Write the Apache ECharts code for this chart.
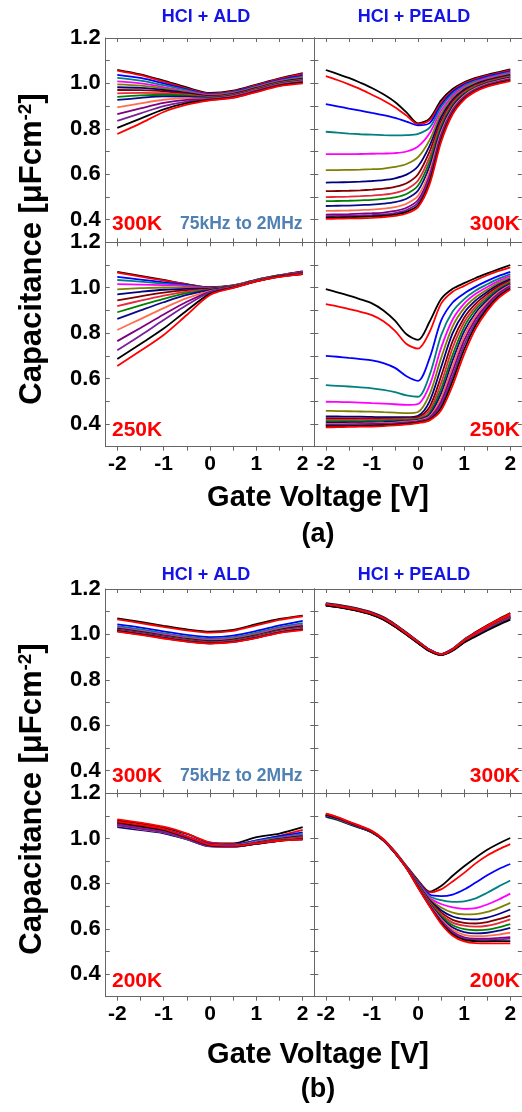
<!DOCTYPE html>
<html>
<head>
<meta charset="utf-8">
<script src="https://cdn.jsdelivr.net/npm/echarts@6/dist/echarts.min.js"></script>
<style>
html,body{margin:0;padding:0;background:#fff;}
#chart{width:522px;height:1112px;}
</style>
</head>
<body>
<div id="chart"></div>
<script>
// ---------------- DATA ----------------
const xAld = [-2,-1.5,-1,-0.5,0,0.5,1,1.5,2];
const xPeald = [-2,-1.75,-1.5,-1.25,-1,-0.75,-0.5,-0.25,0,0.25,0.5,0.75,1,1.25,1.5,1.75,2];
const xTickLabels = [-2,-1,0,1,2];
const xTickMarks = [-2,-1.5,-1,-0.5,0,0.5,1,1.5,2];
const yTickLabels = [0.4,0.6,0.8,1.0,1.2];
const yTickMarks = [0.4,0.5,0.6,0.7,0.8,0.9,1.0,1.1,1.2];
const curveColors = ['#000000','#ff0000','#0000ff','#008080','#ff00ff','#808000','#000080','#800000',
                     '#e8283c','#008000','#0a0a8c','#ff6f4f','#800080','#7a1f9a','#000000','#ff0000'];

// (a) HCl + ALD, 300K
const aldA300 = [
 [1.060,1.040,1.012,0.982,0.958,0.968,0.995,1.022,1.045],
 [1.056,1.036,1.008,0.978,0.955,0.965,0.992,1.020,1.042],
 [1.038,1.024,1.000,0.974,0.952,0.962,0.988,1.015,1.035],
 [1.024,1.012,0.992,0.970,0.950,0.960,0.986,1.012,1.030],
 [1.009,1.000,0.984,0.965,0.948,0.958,0.984,1.010,1.027],
 [0.996,0.990,0.978,0.962,0.946,0.956,0.982,1.008,1.024],
 [0.983,0.980,0.971,0.958,0.944,0.954,0.980,1.006,1.021],
 [0.971,0.970,0.965,0.954,0.942,0.952,0.978,1.004,1.018],
 [0.956,0.958,0.957,0.950,0.940,0.950,0.976,1.002,1.016],
 [0.941,0.947,0.950,0.946,0.938,0.948,0.974,1.000,1.014],
 [0.927,0.936,0.943,0.942,0.936,0.946,0.972,0.998,1.012],
 [0.894,0.912,0.928,0.935,0.933,0.944,0.970,0.996,1.010],
 [0.865,0.890,0.914,0.927,0.931,0.942,0.968,0.994,1.008],
 [0.835,0.868,0.900,0.920,0.929,0.940,0.966,0.992,1.006],
 [0.804,0.845,0.886,0.913,0.927,0.938,0.964,0.990,1.003],
 [0.777,0.824,0.874,0.906,0.925,0.936,0.962,0.988,1.000]
];
// (a) HCl + PEALD, 300K
const pealdA300 = [
 [1.059,1.042,1.024,1.003,0.980,0.952,0.918,0.872,0.824,0.845,0.925,0.975,1.005,1.024,1.038,1.050,1.062],
 [1.032,1.015,0.996,0.975,0.950,0.925,0.895,0.858,0.820,0.838,0.915,0.968,1.000,1.020,1.034,1.046,1.058],
 [0.909,0.899,0.889,0.880,0.870,0.860,0.848,0.832,0.815,0.825,0.905,0.962,0.995,1.015,1.030,1.042,1.053],
 [0.787,0.783,0.779,0.776,0.774,0.772,0.771,0.772,0.778,0.805,0.895,0.955,0.990,1.011,1.026,1.038,1.049],
 [0.688,0.688,0.688,0.689,0.690,0.691,0.693,0.700,0.722,0.780,0.880,0.945,0.984,1.006,1.022,1.034,1.045],
 [0.618,0.618,0.619,0.620,0.622,0.625,0.632,0.645,0.675,0.750,0.865,0.936,0.978,1.002,1.018,1.030,1.041],
 [0.563,0.564,0.565,0.567,0.570,0.574,0.582,0.598,0.635,0.725,0.850,0.928,0.972,0.997,1.014,1.027,1.038],
 [0.525,0.526,0.527,0.529,0.532,0.536,0.544,0.560,0.600,0.700,0.835,0.920,0.966,0.993,1.010,1.023,1.034],
 [0.499,0.500,0.501,0.503,0.506,0.510,0.518,0.534,0.572,0.675,0.822,0.912,0.961,0.989,1.007,1.020,1.031],
 [0.481,0.482,0.483,0.485,0.487,0.491,0.498,0.513,0.550,0.655,0.810,0.905,0.956,0.985,1.004,1.017,1.028],
 [0.460,0.461,0.462,0.464,0.466,0.470,0.477,0.492,0.528,0.635,0.798,0.898,0.951,0.981,1.001,1.014,1.025],
 [0.438,0.439,0.440,0.442,0.444,0.448,0.455,0.470,0.505,0.612,0.785,0.890,0.946,0.978,0.998,1.011,1.022],
 [0.422,0.423,0.424,0.426,0.428,0.431,0.438,0.452,0.486,0.594,0.772,0.882,0.941,0.974,0.995,1.008,1.019],
 [0.415,0.416,0.417,0.418,0.420,0.423,0.429,0.442,0.474,0.580,0.762,0.876,0.937,0.971,0.992,1.005,1.016],
 [0.409,0.410,0.411,0.412,0.414,0.417,0.422,0.434,0.463,0.567,0.752,0.870,0.933,0.968,0.989,1.002,1.013],
 [0.403,0.404,0.405,0.406,0.408,0.411,0.416,0.427,0.455,0.555,0.742,0.864,0.929,0.965,0.986,0.999,1.010]
];
// (a) HCl + ALD, 250K
const aldA250 = [
 [1.070,1.052,1.034,1.016,1.002,1.010,1.035,1.055,1.072],
 [1.066,1.049,1.032,1.015,1.001,1.010,1.035,1.055,1.072],
 [1.048,1.036,1.024,1.012,1.000,1.009,1.034,1.054,1.070],
 [1.034,1.027,1.018,1.009,0.999,1.009,1.034,1.054,1.068],
 [1.016,1.014,1.011,1.006,0.998,1.008,1.033,1.053,1.067],
 [0.993,0.998,1.001,1.000,0.997,1.008,1.033,1.053,1.066],
 [0.971,0.982,0.991,0.995,0.996,1.007,1.032,1.052,1.065],
 [0.944,0.962,0.978,0.989,0.995,1.007,1.032,1.052,1.064],
 [0.919,0.943,0.965,0.983,0.993,1.006,1.031,1.051,1.063],
 [0.892,0.922,0.951,0.976,0.991,1.005,1.031,1.051,1.062],
 [0.863,0.900,0.936,0.968,0.989,1.004,1.030,1.050,1.062],
 [0.814,0.862,0.910,0.954,0.985,1.003,1.030,1.050,1.061],
 [0.765,0.823,0.882,0.938,0.982,1.002,1.029,1.050,1.061],
 [0.725,0.790,0.858,0.924,0.979,1.001,1.029,1.049,1.060],
 [0.686,0.752,0.820,0.900,0.973,1.000,1.028,1.049,1.060],
 [0.655,0.722,0.792,0.880,0.968,0.999,1.028,1.048,1.060]
];
// (a) HCl + PEALD, 250K
const pealdA250 = [
 [0.994,0.980,0.965,0.949,0.931,0.900,0.855,0.795,0.770,0.850,0.950,0.995,1.020,1.043,1.063,1.082,1.100],
 [0.928,0.918,0.906,0.894,0.879,0.852,0.810,0.752,0.732,0.805,0.930,0.982,1.008,1.033,1.055,1.074,1.090],
 [0.700,0.696,0.691,0.686,0.680,0.668,0.647,0.610,0.590,0.690,0.855,0.935,0.975,1.005,1.030,1.052,1.070],
 [0.571,0.568,0.565,0.561,0.557,0.550,0.540,0.526,0.520,0.615,0.790,0.895,0.950,0.988,1.015,1.040,1.060],
 [0.498,0.497,0.496,0.494,0.492,0.490,0.487,0.484,0.488,0.570,0.735,0.860,0.930,0.973,1.003,1.030,1.052],
 [0.458,0.457,0.456,0.455,0.454,0.452,0.450,0.448,0.453,0.530,0.690,0.830,0.910,0.958,0.992,1.022,1.045],
 [0.433,0.433,0.432,0.432,0.431,0.430,0.430,0.430,0.436,0.500,0.650,0.800,0.890,0.944,0.982,1.014,1.038],
 [0.425,0.425,0.425,0.425,0.425,0.425,0.425,0.426,0.430,0.475,0.610,0.765,0.868,0.930,0.972,1.007,1.032],
 [0.418,0.418,0.418,0.419,0.419,0.420,0.421,0.422,0.425,0.460,0.580,0.735,0.848,0.917,0.963,1.000,1.027],
 [0.412,0.412,0.413,0.413,0.414,0.415,0.416,0.418,0.421,0.448,0.555,0.705,0.828,0.904,0.954,0.994,1.022],
 [0.406,0.406,0.407,0.407,0.408,0.409,0.411,0.414,0.418,0.440,0.535,0.680,0.808,0.890,0.945,0.988,1.017],
 [0.400,0.400,0.401,0.402,0.403,0.404,0.406,0.410,0.415,0.433,0.515,0.655,0.788,0.876,0.936,0.981,1.012],
 [0.397,0.397,0.398,0.399,0.400,0.401,0.403,0.407,0.412,0.428,0.498,0.632,0.768,0.862,0.927,0.975,1.007],
 [0.394,0.394,0.395,0.396,0.397,0.398,0.400,0.404,0.410,0.424,0.485,0.610,0.748,0.848,0.918,0.968,1.002],
 [0.390,0.390,0.391,0.392,0.393,0.395,0.397,0.401,0.407,0.420,0.472,0.590,0.728,0.834,0.908,0.962,0.997],
 [0.385,0.386,0.387,0.388,0.389,0.391,0.394,0.398,0.404,0.416,0.460,0.570,0.708,0.820,0.898,0.955,0.992]
];
// (b) HCl + ALD, 300K
const aldB300 = [
 [1.071,1.055,1.038,1.022,1.012,1.020,1.045,1.068,1.083],
 [1.066,1.050,1.033,1.018,1.008,1.016,1.040,1.064,1.080],
 [1.044,1.030,1.013,0.998,0.988,0.995,1.015,1.040,1.060],
 [1.036,1.022,1.006,0.991,0.981,0.988,1.008,1.032,1.050],
 [1.030,1.016,1.000,0.986,0.976,0.983,1.002,1.026,1.043],
 [1.027,1.013,0.997,0.983,0.973,0.980,0.999,1.023,1.040],
 [1.025,1.011,0.995,0.980,0.970,0.977,0.996,1.020,1.036],
 [1.023,1.009,0.993,0.978,0.968,0.975,0.994,1.018,1.033],
 [1.021,1.007,0.991,0.976,0.966,0.973,0.992,1.016,1.031],
 [1.020,1.006,0.990,0.975,0.965,0.972,0.991,1.015,1.029],
 [1.019,1.005,0.989,0.974,0.964,0.971,0.990,1.014,1.027],
 [1.017,1.003,0.987,0.972,0.963,0.970,0.988,1.012,1.025],
 [1.016,1.002,0.986,0.971,0.962,0.969,0.987,1.010,1.023],
 [1.015,1.001,0.985,0.970,0.961,0.968,0.986,1.009,1.022],
 [1.014,1.000,0.984,0.969,0.961,0.967,0.985,1.008,1.021],
 [1.012,0.998,0.982,0.968,0.960,0.966,0.984,1.007,1.019]
];
// (b) HCl + PEALD, 300K
const pealdB300 = [
 [1.138,1.131,1.122,1.111,1.097,1.076,1.045,1.008,0.970,0.933,0.914,0.937,0.978,1.010,1.040,1.068,1.094],
 [1.136,1.129,1.120,1.109,1.095,1.074,1.043,1.007,0.969,0.932,0.913,0.936,0.977,1.008,1.038,1.066,1.092],
 [1.134,1.127,1.118,1.107,1.093,1.072,1.041,1.005,0.968,0.932,0.913,0.935,0.974,1.003,1.031,1.058,1.083],
 [1.133,1.126,1.117,1.106,1.092,1.071,1.040,1.004,0.967,0.931,0.913,0.934,0.973,1.002,1.030,1.056,1.080],
 [1.132,1.125,1.116,1.105,1.091,1.070,1.039,1.003,0.966,0.931,0.913,0.934,0.973,1.002,1.031,1.058,1.084],
 [1.132,1.125,1.116,1.105,1.091,1.070,1.039,1.003,0.966,0.930,0.912,0.933,0.972,1.001,1.029,1.055,1.079],
 [1.131,1.124,1.115,1.104,1.090,1.069,1.038,1.002,0.965,0.930,0.912,0.933,0.971,1.000,1.028,1.054,1.077],
 [1.131,1.124,1.115,1.104,1.090,1.069,1.038,1.002,0.965,0.930,0.912,0.932,0.970,0.999,1.027,1.053,1.076],
 [1.130,1.123,1.114,1.103,1.089,1.068,1.037,1.001,0.964,0.929,0.911,0.932,0.970,0.999,1.026,1.052,1.075],
 [1.130,1.123,1.114,1.103,1.089,1.068,1.037,1.001,0.964,0.929,0.911,0.931,0.969,0.998,1.025,1.051,1.074],
 [1.129,1.122,1.113,1.102,1.088,1.067,1.036,1.000,0.963,0.928,0.911,0.931,0.969,0.997,1.024,1.050,1.073],
 [1.129,1.122,1.113,1.102,1.088,1.067,1.036,1.000,0.963,0.928,0.910,0.930,0.968,0.996,1.023,1.049,1.072],
 [1.128,1.121,1.112,1.101,1.087,1.066,1.035,0.999,0.962,0.927,0.910,0.930,0.967,0.995,1.022,1.048,1.071],
 [1.128,1.121,1.112,1.101,1.087,1.066,1.035,0.999,0.962,0.927,0.910,0.929,0.966,0.994,1.021,1.047,1.070],
 [1.127,1.120,1.111,1.100,1.086,1.065,1.034,0.998,0.961,0.926,0.909,0.928,0.964,0.991,1.017,1.042,1.065],
 [1.132,1.125,1.116,1.105,1.091,1.070,1.039,1.003,0.966,0.930,0.912,0.933,0.972,1.004,1.034,1.062,1.088]
];
// (b) HCl + ALD, 200K
const aldB200 = [
 [1.080,1.066,1.048,1.020,0.982,0.978,1.006,1.022,1.050],
 [1.085,1.070,1.052,1.022,0.983,0.975,0.990,1.012,1.038],
 [1.070,1.055,1.040,1.010,0.975,0.972,0.992,1.010,1.027],
 [1.065,1.050,1.035,1.006,0.972,0.970,0.988,1.005,1.020],
 [1.068,1.052,1.036,1.006,0.971,0.968,0.985,1.002,1.015],
 [1.062,1.047,1.032,1.003,0.969,0.967,0.983,1.000,1.012],
 [1.060,1.045,1.030,1.001,0.968,0.966,0.981,0.998,1.010],
 [1.065,1.049,1.033,1.002,0.968,0.966,0.980,0.996,1.008],
 [1.058,1.043,1.028,0.999,0.967,0.965,0.979,0.995,1.006],
 [1.055,1.040,1.025,0.997,0.966,0.964,0.978,0.994,1.004],
 [1.050,1.037,1.023,0.996,0.965,0.964,0.977,0.993,1.002],
 [1.058,1.042,1.027,0.998,0.966,0.964,0.977,0.992,1.000],
 [1.060,1.044,1.028,0.999,0.966,0.964,0.976,0.991,0.998],
 [1.062,1.046,1.030,1.000,0.967,0.965,0.976,0.990,0.997],
 [1.072,1.056,1.038,1.005,0.970,0.966,0.977,0.990,0.996],
 [1.075,1.060,1.042,1.008,0.972,0.967,0.978,0.990,0.995]
];
// (b) HCl + PEALD, 200K
const pealdB200 = [
 [1.100,1.086,1.068,1.050,1.030,0.996,0.942,0.878,0.815,0.765,0.790,0.835,0.877,0.915,0.950,0.978,1.002],
 [1.110,1.095,1.075,1.056,1.034,0.997,0.941,0.876,0.812,0.762,0.775,0.810,0.848,0.890,0.925,0.952,0.975],
 [1.104,1.089,1.069,1.051,1.030,0.994,0.939,0.874,0.808,0.752,0.745,0.752,0.774,0.805,0.837,0.865,0.887],
 [1.102,1.087,1.068,1.050,1.029,0.993,0.938,0.873,0.805,0.745,0.727,0.720,0.722,0.735,0.760,0.788,0.814],
 [1.104,1.089,1.069,1.051,1.030,0.994,0.939,0.873,0.802,0.738,0.710,0.695,0.689,0.692,0.708,0.730,0.756],
 [1.101,1.086,1.067,1.049,1.029,0.993,0.938,0.872,0.800,0.732,0.695,0.672,0.664,0.665,0.675,0.693,0.715],
 [1.100,1.085,1.066,1.049,1.028,0.992,0.937,0.872,0.798,0.727,0.683,0.655,0.644,0.642,0.650,0.666,0.686],
 [1.103,1.088,1.068,1.050,1.029,0.993,0.938,0.872,0.796,0.723,0.673,0.640,0.627,0.624,0.630,0.643,0.659],
 [1.102,1.087,1.067,1.049,1.028,0.992,0.937,0.871,0.794,0.719,0.665,0.628,0.614,0.610,0.614,0.626,0.642],
 [1.096,1.082,1.063,1.046,1.026,0.991,0.936,0.871,0.792,0.715,0.657,0.616,0.599,0.594,0.597,0.607,0.621],
 [1.098,1.084,1.065,1.047,1.027,0.991,0.936,0.870,0.790,0.712,0.650,0.606,0.586,0.580,0.583,0.592,0.605],
 [1.103,1.088,1.068,1.050,1.029,0.992,0.937,0.870,0.788,0.709,0.643,0.596,0.574,0.568,0.569,0.575,0.583],
 [1.104,1.089,1.069,1.050,1.029,0.992,0.936,0.869,0.786,0.706,0.637,0.588,0.563,0.557,0.557,0.560,0.564],
 [1.105,1.090,1.070,1.051,1.030,0.993,0.936,0.869,0.785,0.704,0.633,0.582,0.557,0.551,0.551,0.553,0.557],
 [1.106,1.091,1.071,1.052,1.030,0.993,0.936,0.868,0.784,0.702,0.628,0.576,0.551,0.546,0.545,0.546,0.546],
 [1.110,1.094,1.073,1.054,1.032,0.994,0.937,0.868,0.782,0.700,0.623,0.570,0.545,0.537,0.536,0.536,0.536]
];

// ---------------- LAYOUT ----------------
const FONT = '"Liberation Sans", Arial, Helvetica, sans-serif';
const AX = '#666666';
const grids = [
  {left:105.7, top:38,    width:208.6, height:204.3},
  {left:314.3, top:38,    width:207.5, height:204.3},
  {left:105.7, top:242.3, width:208.6, height:204.4},
  {left:314.3, top:242.3, width:207.5, height:204.4},
  {left:105.7, top:589,   width:208.6, height:204.3},
  {left:314.3, top:589,   width:207.5, height:204.3},
  {left:105.7, top:793.3, width:208.6, height:203.4},
  {left:314.3, top:793.3, width:207.5, height:203.4}
];
const panelData = [
  {curves: aldA300,  x: xAld},
  {curves: pealdA300, x: xPeald},
  {curves: aldA250,  x: xAld},
  {curves: pealdA250, x: xPeald},
  {curves: aldB300,  x: xAld},
  {curves: pealdB300, x: xPeald},
  {curves: aldB200,  x: xAld},
  {curves: pealdB200, x: xPeald}
];

const xAxes = [], yAxes = [], series = [];
grids.forEach((g, gi) => {
  const col = gi % 2;
  const bottomRow = (gi === 2 || gi === 3 || gi === 6 || gi === 7);
  const baseX = {
    gridIndex: gi, type: 'value', min: -2.25, max: 2.25,
    splitLine: {show: false},
    axisLine: {show: true, onZero: false, lineStyle: {color: AX, width: 1}}
  };
  xAxes.push(Object.assign({}, baseX, {
    position: 'bottom',
    axisTick: {show: true, inside: !bottomRow, length: 4, customValues: xTickMarks, lineStyle: {color: AX}},
    axisLabel: {show: bottomRow, customValues: xTickLabels, margin: 7,
      formatter: v => String(Math.round(v)),
      color: '#000', fontWeight: 'bold', fontSize: 21, fontFamily: FONT}
  }));
  xAxes.push(Object.assign({}, baseX, {
    position: 'top',
    axisTick: {show: true, inside: true, length: 4, customValues: xTickMarks, lineStyle: {color: AX}},
    axisLabel: {show: false}
  }));
  const baseY = {
    gridIndex: gi, type: 'value', min: 0.3, max: 1.2,
    splitLine: {show: false},
    axisLine: {show: true, onZero: false, lineStyle: {color: AX, width: 1}}
  };
  yAxes.push(Object.assign({}, baseY, {
    position: 'left',
    axisTick: {show: true, inside: true, length: 4, customValues: yTickMarks, lineStyle: {color: AX}},
    axisLabel: {show: col === 0, customValues: yTickLabels, margin: 5,
      formatter: v => v.toFixed(1),
      color: '#000', fontWeight: 'bold', fontSize: 22, fontFamily: FONT}
  }));
  yAxes.push(Object.assign({}, baseY, {
    position: 'right',
    axisTick: {show: true, inside: true, length: 4, customValues: yTickMarks, lineStyle: {color: AX}},
    axisLabel: {show: false}
  }));
  const pd = panelData[gi];
  pd.curves.forEach((vals, ci) => {
    series.push({
      type: 'line', xAxisIndex: gi * 2, yAxisIndex: gi * 2,
      data: pd.x.map((xv, k) => [xv, vals[k]]),
      showSymbol: false, smooth: 0.3, silent: true,
      lineStyle: {width: 1.8, color: curveColors[ci]},
      itemStyle: {color: curveColors[ci]}
    });
  });
});

function txt(text, x, y, font, fill, align) {
  return {type: 'text', x: x, y: y, silent: true, z: 100,
    style: {text: text, font: font, fill: fill, textAlign: align || 'center',
            textVerticalAlign: 'middle', verticalAlign: 'middle'}};
}
const BLUE = '#1414e6', RED = '#ff0000', STEEL = '#4f81b3';
const fTitle = 'bold 18px ' + FONT;
const fTemp = 'bold 21px ' + FONT;
const fFreq = 'bold 17.5px ' + FONT;
const fAxis = 'bold 29px ' + FONT;
const fPanel = 'bold 27px ' + FONT;

function yTitle(cy) {
  return {type: 'text', x: 32, y: cy, rotation: Math.PI / 2, silent: true, z: 100,
    style: {text: '{a|Capacitance [μFcm}{s|-2}{a|]}', textAlign: 'center', textVerticalAlign: 'middle', verticalAlign: 'middle',
      rich: {a: {font: 'bold 31px ' + FONT, fill: '#000'},
             s: {font: 'bold 19px ' + FONT, fill: '#000', verticalAlign: 'top'}}}};
}

const graphics = [
  txt('HCl + ALD', 206, 17, fTitle, BLUE),
  txt('HCl + PEALD', 414, 17, fTitle, BLUE),
  txt('300K', 112, 224, fTemp, RED, 'left'),
  txt('75kHz to 2MHz', 180, 224, fFreq, STEEL, 'left'),
  txt('300K', 520, 224, fTemp, RED, 'right'),
  txt('250K', 112, 430, fTemp, RED, 'left'),
  txt('250K', 520, 430, fTemp, RED, 'right'),
  yTitle(249),
  txt('Gate Voltage [V]', 318, 498, fAxis, '#000'),
  txt('(a)', 318, 535, fPanel, '#000'),

  txt('HCl + ALD', 206, 575, fTitle, BLUE),
  txt('HCl + PEALD', 414, 575, fTitle, BLUE),
  txt('300K', 112, 776, fTemp, RED, 'left'),
  txt('75kHz to 2MHz', 180, 776, fFreq, STEEL, 'left'),
  txt('300K', 520, 776, fTemp, RED, 'right'),
  txt('200K', 112, 981, fTemp, RED, 'left'),
  txt('200K', 520, 981, fTemp, RED, 'right'),
  yTitle(799),
  txt('Gate Voltage [V]', 318, 1055, fAxis, '#000'),
  txt('(b)', 318, 1090, fPanel, '#000')
];

const chart = echarts.init(document.getElementById('chart'), null, {renderer: 'canvas'});
chart.setOption({
  backgroundColor: '#ffffff',
  animation: false,
  grid: grids,
  xAxis: xAxes,
  yAxis: yAxes,
  series: series,
  graphic: graphics
});
</script>
</body>
</html>
